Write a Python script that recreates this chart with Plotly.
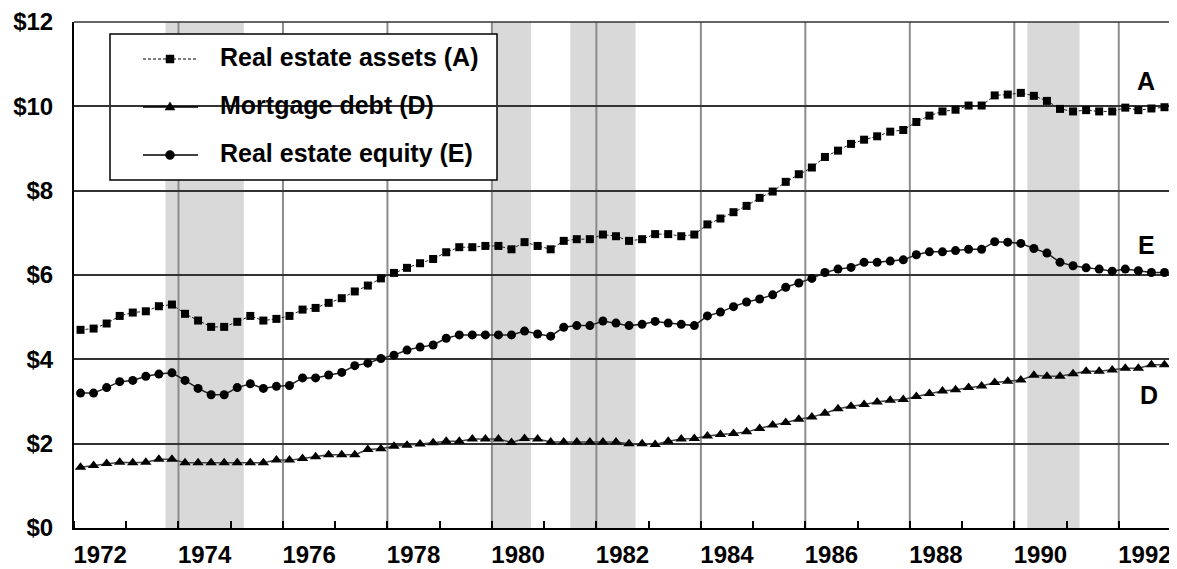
import plotly.graph_objects as go

# Quarterly data, 1972Q1 .. 1992Q4 (trillions of dollars)
years = list(range(1972, 1993))
quarters = [1, 2, 3, 4]

assets = [4.70, 4.73, 4.85, 5.03, 5.11, 5.14, 5.26, 5.30, 5.08, 4.92, 4.77, 4.77,
          4.89, 5.03, 4.92, 4.96, 5.03, 5.18, 5.22, 5.34, 5.45, 5.61, 5.75, 5.92,
          6.05, 6.17, 6.28, 6.38, 6.54, 6.66, 6.66, 6.69, 6.69, 6.61, 6.78, 6.69,
          6.61, 6.81, 6.85, 6.85, 6.96, 6.92, 6.81, 6.85, 6.97, 6.97, 6.92, 6.96,
          7.20, 7.34, 7.49, 7.64, 7.83, 7.98, 8.21, 8.39, 8.55, 8.80, 8.95, 9.11,
          9.21, 9.29, 9.40, 9.44, 9.63, 9.78, 9.88, 9.92, 10.02, 10.02, 10.26, 10.28,
          10.32, 10.25, 10.13, 9.94, 9.88, 9.91, 9.88, 9.88, 9.97, 9.91, 9.95, 9.98]

debt = [1.44, 1.48, 1.53, 1.56, 1.55, 1.56, 1.63, 1.63, 1.55, 1.55, 1.55, 1.55,
        1.55, 1.55, 1.55, 1.61, 1.61, 1.65, 1.69, 1.74, 1.74, 1.74, 1.86, 1.88,
        1.94, 1.96, 1.99, 2.02, 2.06, 2.06, 2.11, 2.11, 2.11, 2.03, 2.12, 2.11,
        2.04, 2.04, 2.04, 2.04, 2.04, 2.04, 2.00, 2.00, 1.98, 2.06, 2.11, 2.12,
        2.18, 2.22, 2.24, 2.28, 2.36, 2.44, 2.50, 2.58, 2.63, 2.72, 2.83, 2.89,
        2.93, 2.99, 3.03, 3.05, 3.12, 3.19, 3.25, 3.28, 3.33, 3.37, 3.45, 3.48,
        3.51, 3.62, 3.60, 3.60, 3.66, 3.72, 3.72, 3.75, 3.79, 3.79, 3.87, 3.87]

equity = [3.20, 3.20, 3.33, 3.47, 3.50, 3.60, 3.65, 3.68, 3.50, 3.31, 3.16, 3.16,
          3.33, 3.42, 3.31, 3.36, 3.38, 3.56, 3.56, 3.63, 3.69, 3.85, 3.91, 4.02,
          4.10, 4.22, 4.29, 4.34, 4.50, 4.58, 4.58, 4.58, 4.58, 4.58, 4.67, 4.60,
          4.55, 4.76, 4.80, 4.80, 4.91, 4.86, 4.80, 4.83, 4.90, 4.86, 4.83, 4.80,
          5.03, 5.12, 5.25, 5.36, 5.43, 5.53, 5.71, 5.81, 5.92, 6.06, 6.14, 6.18,
          6.30, 6.30, 6.33, 6.36, 6.48, 6.55, 6.55, 6.58, 6.61, 6.61, 6.79, 6.78,
          6.75, 6.63, 6.52, 6.30, 6.22, 6.17, 6.14, 6.09, 6.14, 6.10, 6.06, 6.06]

series_names = ["Real estate assets (A)", "Mortgage debt (D)", "Real estate equity (E)"]
end_labels = ["A", "D", "E"]

# Recessions (shaded), in fractional years
rec_start = [1973.75, 1980.0, 1981.5, 1990.25]
rec_end = [1975.25, 1980.75, 1982.75, 1991.25]

year_labels = [str(y) for y in range(1972, 1993, 2)]
y_ticks = [0, 2, 4, 6, 8, 10, 12]

# quarter midpoints
x = [y + (q - 0.5) / 4 for y in years for q in quarters]
assert len(x) == len(assets) == len(debt) == len(equity) == 84

FONT = "Liberation Sans, Arial, sans-serif"
OFF = 8  # default page body margin
W, H = 1177 - OFF, 569 - OFF
# plot area in page pixels
PL, PR, PT, PB = 74, 1171, 22, 528
ML, MR, MT, MB = PL - OFF, W - (PR - OFF), PT - OFF, H - (PB - OFF)
PW, PH = PR - PL, PB - PT


def px_x(p):
    return (p - PL) / PW


def px_y(p):
    return (PB - p) / PH


styles = [
    dict(line=dict(color="#222222", width=1, dash="3px,2px"),
         marker=dict(symbol="square", size=8, color="black")),
    dict(line=dict(color="#444444", width=1.5),
         marker=dict(symbol="triangle-up", size=10, color="black")),
    dict(line=dict(color="#222222", width=1.5),
         marker=dict(symbol="circle", size=9, color="black")),
]

fig = go.Figure()
for name, vals, st in zip(series_names, [assets, debt, equity], styles):
    fig.add_trace(go.Scatter(x=x, y=vals, mode="lines+markers", name=name,
                             line=st["line"], marker=st["marker"], showlegend=False))

shapes = []
for s, e in zip(rec_start, rec_end):
    shapes.append(dict(type="rect", xref="x", yref="paper", x0=s, x1=e, y0=0, y1=1,
                       fillcolor="#d9d9d9", line=dict(width=0), layer="below"))
for gy in range(1974, 1993, 2):
    shapes.append(dict(type="line", xref="x", yref="paper", x0=gy, x1=gy, y0=0, y1=1,
                       line=dict(color="#8c8c8c", width=2), layer="between"))
shapes.append(dict(type="line", xref="paper", yref="paper", x0=1, x1=1, y0=0, y1=1,
                   line=dict(color="#8c8c8c", width=2), layer="between"))
# top border at $12
shapes.append(dict(type="line", xref="paper", yref="paper", x0=0, x1=1, y0=1, y1=1,
                   line=dict(color="#333333", width=1.5), layer="between"))

# Legend box (drawn)
shapes.append(dict(type="rect", xref="paper", yref="paper",
                   x0=px_x(110), x1=px_x(497), y0=px_y(180), y1=px_y(34),
                   fillcolor="white", line=dict(color="black", width=1.5), layer="between"))

annotations = []
rows = [59, 107, 155]
for name, st, ry in zip(series_names, styles, rows):
    shapes.append(dict(type="line", xref="paper", yref="paper",
                       x0=px_x(143), x1=px_x(198), y0=px_y(ry), y1=px_y(ry),
                       line=dict(color="black", width=st["line"]["width"],
                                 dash=st["line"].get("dash", "solid")), layer="above"))
    sym = st["marker"]["symbol"]
    common = dict(xref="paper", yref="paper", xsizemode="pixel", ysizemode="pixel",
                  xanchor=px_x(170), yanchor=px_y(ry), fillcolor="black",
                  line=dict(color="black", width=0.5), layer="above")
    if sym == "square":
        shapes.append(dict(type="rect", x0=-4, x1=4, y0=-4, y1=4, **common))
    elif sym == "circle":
        shapes.append(dict(type="circle", x0=-4.5, x1=4.5, y0=-4.5, y1=4.5, **common))
    else:
        shapes.append(dict(type="path", path="M-5,-3 L5,-3 L0,5 Z", **common))
    annotations.append(dict(x=px_x(218), y=px_y(ry - 2), xref="paper", yref="paper",
                            xanchor="left", yanchor="middle", text=name, showarrow=False,
                            font=dict(family=FONT, size=25, color="black", weight="bold")))

for lab, ax, ay in zip(end_labels, [1992.53, 1992.58, 1992.53], [10.6, 3.15, 6.71]):
    annotations.append(dict(x=ax, y=ay, xref="x", yref="y", text=lab, showarrow=False,
                            font=dict(family=FONT, size=25, color="black", weight="bold")))

fig.update_layout(
    width=W, height=H,
    margin=dict(l=ML, r=MR, t=MT, b=MB),
    paper_bgcolor="white", plot_bgcolor="white",
    font=dict(family=FONT, size=24, color="black", weight="bold"),
    shapes=shapes, annotations=annotations,
    showlegend=False,
    xaxis=dict(range=[1972, 1993], tickmode="array",
               tickvals=[int(t) + 0.5 for t in year_labels], ticktext=year_labels,
               ticks="", showgrid=False, zeroline=False, automargin=False,
               showline=True, linecolor="black", linewidth=2,
               ticklabelstandoff=4,
               tickfont=dict(family=FONT, size=24, color="black", weight="bold"),
               minor=dict(tickmode="array", tickvals=years + [1993], ticks="inside",
                          ticklen=7, tickcolor="black", tickwidth=1.5, showgrid=False)),
    yaxis=dict(range=[0, 12.001], tickmode="array", tickvals=y_ticks,
               ticktext=["$" + str(v) for v in y_ticks],
               ticks="", showgrid=True, gridcolor="#333333", gridwidth=1.5,
               zeroline=False, showline=True, linecolor="black", linewidth=2,
               automargin=False, ticklabelstandoff=14,
               tickfont=dict(family=FONT, size=24, color="black", weight="bold")),
)

fig.write_html("out.html")
